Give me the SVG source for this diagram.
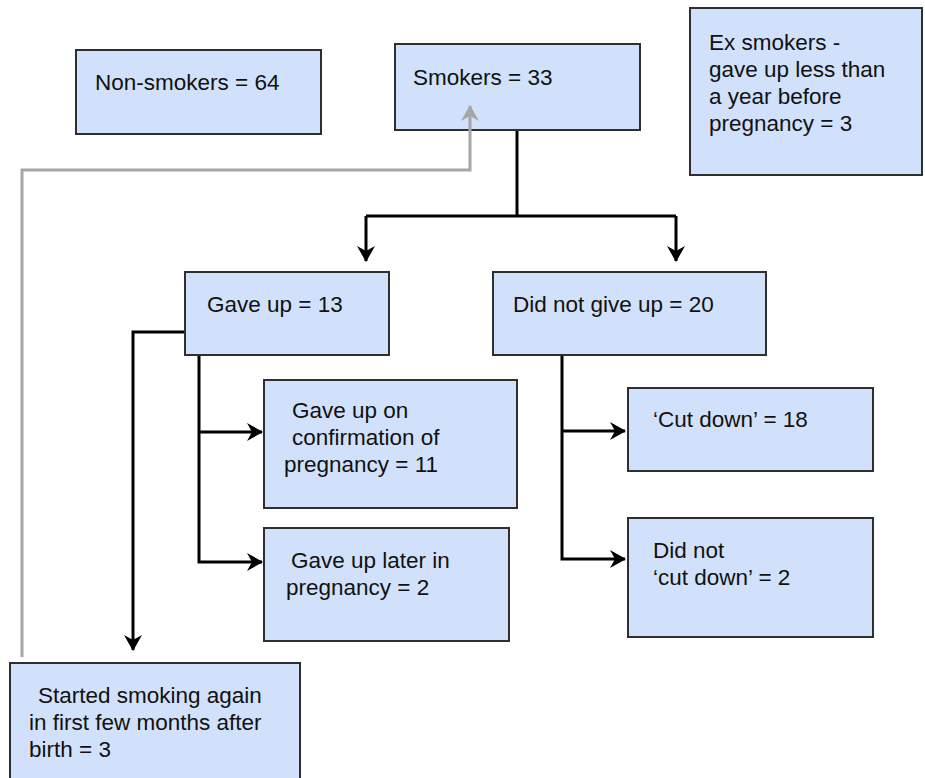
<svg xmlns="http://www.w3.org/2000/svg" width="925" height="778" viewBox="0 0 925 778">
<style>
  .box { fill: #d2e1fb; stroke: #2f2f2f; stroke-width: 2; }
  .t { font-family: "Liberation Sans", Arial, Helvetica, sans-serif; font-size: 22.5px; fill: #111; }
  .blk { fill: none; stroke: #000; stroke-width: 3; }
  .gry { fill: none; stroke: #a6a6a6; stroke-width: 3; }
</style>
<defs>
  <marker id="ab" viewBox="0 0 16 20" markerUnits="userSpaceOnUse" markerWidth="16" markerHeight="20" refX="15" refY="10" orient="auto">
    <path d="M0,1 L16,10 L0,19 L5,10 z" fill="#000"/>
  </marker>
  <marker id="ag" viewBox="0 0 16 20" markerUnits="userSpaceOnUse" markerWidth="16" markerHeight="20" refX="15" refY="10" orient="auto">
    <path d="M0,1 L16,10 L0,19 L5,10 z" fill="#a6a6a6"/>
  </marker>
</defs>
<rect width="925" height="778" fill="#fff"/>

<g id="non-smokers">
  <rect class="box" x="76" y="50" width="245" height="84"/>
  <text class="t" x="95" y="90">Non-smokers = 64</text>
</g>
<g id="smokers">
  <rect class="box" x="395" y="44" width="245" height="86"/>
  <text class="t" x="413" y="85">Smokers = 33</text>
</g>
<g id="ex-smokers">
  <rect class="box" x="690" y="8" width="232" height="167"/>
  <text class="t" x="709" y="50">Ex smokers -</text>
  <text class="t" x="709" y="77">gave up less than</text>
  <text class="t" x="709" y="104">a year before</text>
  <text class="t" x="709" y="131">pregnancy = 3</text>
</g>
<g id="gave-up">
  <rect class="box" x="185" y="272" width="204" height="83"/>
  <text class="t" x="207" y="312">Gave up = 13</text>
</g>
<g id="did-not-give-up">
  <rect class="box" x="493" y="272" width="273" height="83"/>
  <text class="t" x="513" y="312">Did not give up = 20</text>
</g>
<g id="gave-up-confirmation">
  <rect class="box" x="264" y="380" width="253" height="128"/>
  <text class="t" x="292" y="418">Gave up on</text>
  <text class="t" x="292" y="445">confirmation of</text>
  <text class="t" x="284" y="472">pregnancy = 11</text>
</g>
<g id="gave-up-later">
  <rect class="box" x="264" y="528" width="245" height="113"/>
  <text class="t" x="291" y="568">Gave up later in</text>
  <text class="t" x="286" y="595">pregnancy = 2</text>
</g>
<g id="cut-down">
  <rect class="box" x="628" y="388" width="245" height="83"/>
  <text class="t" x="653" y="427">‘Cut down’ = 18</text>
</g>
<g id="did-not-cut-down">
  <rect class="box" x="628" y="518" width="245" height="119"/>
  <text class="t" x="653" y="558">Did not</text>
  <text class="t" x="653" y="585">‘cut down’ = 2</text>
</g>
<g id="started-again">
  <rect class="box" x="10" y="663" width="290" height="130"/>
  <text class="t" x="38" y="703">Started smoking again</text>
  <text class="t" x="29" y="730">in first few months after</text>
  <text class="t" x="29" y="757">birth = 3</text>
</g>

<g id="connectors">
  <path class="gry" d="M22,657 L22,170 L470,170 L470,106" marker-end="url(#ag)"/>
  <path class="blk" d="M517,131 L517,216"/>
  <path class="blk" d="M366,216 L676,216"/>
  <path class="blk" d="M366,216 L366,261" marker-end="url(#ab)"/>
  <path class="blk" d="M676,216 L676,261" marker-end="url(#ab)"/>
  <path class="blk" d="M184,332 L133,332 L133,650" marker-end="url(#ab)"/>
  <path class="blk" d="M199,356 L199,562 L262,562" marker-end="url(#ab)"/>
  <path class="blk" d="M199,432 L262,432" marker-end="url(#ab)"/>
  <path class="blk" d="M562,356 L562,559 L625,559" marker-end="url(#ab)"/>
  <path class="blk" d="M562,431 L625,431" marker-end="url(#ab)"/>
</g>
</svg>
